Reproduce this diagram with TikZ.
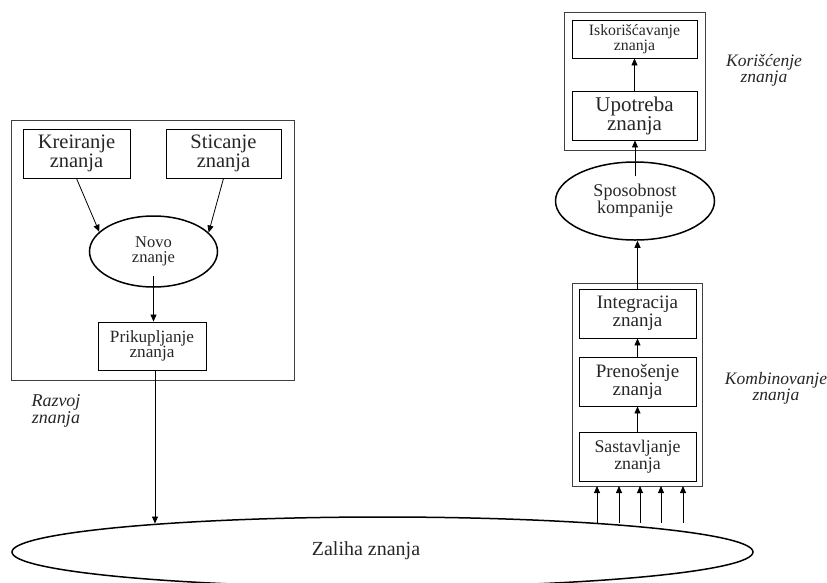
\documentclass[tikz,border=0pt]{standalone}
\usepackage{fontspec}
\setmainfont{Liberation Serif}
\usetikzlibrary{shapes.geometric,arrows.meta,calc}

\newcommand{\fs}[2]{\fontsize{#1}{#2}\selectfont}

\tikzset{
  box/.style={draw, line width=0.9pt, inner sep=0pt, align=center, text=black!85},
  frame/.style={draw=black!75, line width=0.9pt},
  oval/.style={draw, ellipse, line width=1.5pt, inner sep=0pt, align=center, text=black!85},
  arr/.style={line width=0.8pt, -{Triangle[length=7pt,width=6pt]}},
  note/.style={align=center, font=\itshape, text=black!85},
}

\begin{document}
\begin{tikzpicture}[x=1pt,y=-1pt]
\useasboundingbox (0,0) rectangle (827,582);

% knowledge development block
\draw[frame] (11,120) rectangle (294,380);
\node[box, minimum width=107, minimum height=49, font=\fs{20.5}{18.5}] (kre) at (76.5,153.5) {Kreiranje\\znanja};
\node[box, minimum width=115, minimum height=49, font=\fs{20.5}{18.5}] (sti) at (223.5,153.5) {Sticanje\\znanja};
\node[oval, minimum width=128, minimum height=71, font=\fs{16.5}{15.5}] (novo) at (153.5,251.5) {Novo\\znanje};
\node[box, minimum width=108, minimum height=48, font=\fs{17.2}{15.5}] (prik) at (152,346) {Prikupljanje\\znanja};
\node[note, font=\itshape\fs{18}{17}] (razvoj) at (56,411) {Razvoj\\znanja};

% knowledge use block
\draw[frame] (564,12) rectangle (705,150);
\node[box, minimum width=125, minimum height=38, font=\fs{15.8}{14.5}] (isk) at (634.5,39) {Iskorišćavanje\\znanja};
\node[box, minimum width=125, minimum height=49, font=\fs{21}{19}] (upo) at (634.5,115.5) {Upotreba\\znanja};
\node[note, font=\itshape\fs{17.5}{15}] (kor) at (764,70) {Korišćenje\\znanja};

% company capability
\node[oval, minimum width=159, minimum height=78, font=\fs{18}{16}] (spos) at (635,201) {Sposobnost\\kompanije};

% knowledge combination block
\draw[frame] (572,283) rectangle (702,486);
\coordinate (comb) at (637,486);
\node[box, minimum width=117, minimum height=49, font=\fs{19}{18}] (int) at (637.5,313.5) {Integracija\\znanja};
\node[box, minimum width=117, minimum height=49, font=\fs{19}{18}] (pre) at (637.5,381.5) {Prenošenje\\znanja};
\node[box, minimum width=117, minimum height=49, font=\fs{17.8}{17}] (sas) at (637.5,456.5) {Sastavljanje\\znanja};
\node[note, font=\itshape\fs{17.5}{14.5}] (komb) at (776,388) {Kombinovanje\\znanja};

% knowledge stock
\node[oval, minimum width=741, minimum height=70] (zal) at (382.5,552) {};
\node[text=black!85, font=\fs{20}{20}] (zaltext) at (366,551) {Zaliha znanja};
\coordinate (zin) at (155,523.5);

% connectors
\draw[arr] (kre.south) -- (novo.160);
\draw[arr] (sti.south) -- (novo.19);
\draw[arr] ($(novo.south)+(0,-12)$) -- (novo.south |- prik.north);
\draw[arr] (prik.south -| zin) -- (zin);
\draw[arr] (upo.north) -- (isk.south);
\draw[arr] ($(spos.north)+(0,15)$) -- (spos.north |- upo.south);
\draw[arr] (int.north) -- (int.north |- spos.south);
\draw[arr] (pre.north) -- (int.south);
\draw[arr] (sas.north) -- (pre.south);
\foreach \x in {597,619,640,661,683}
  \draw[arr] (\x,523) -- (comb -| \x,0);
\end{tikzpicture}
\end{document}
